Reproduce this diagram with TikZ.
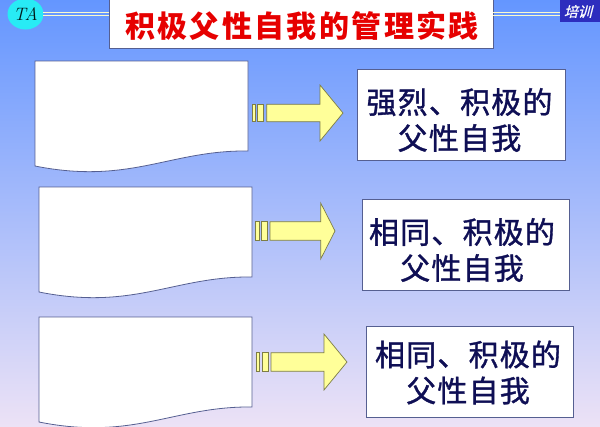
\documentclass[tikz,border=0pt]{standalone}
\usepackage{fontspec}
\usetikzlibrary{shapes.geometric}
\newfontfamily\cjk{Noto Sans CJK SC}
\newfontfamily\cjkw[LetterSpace=4,FakeBold=1.2]{Noto Sans CJK SC}
\newfontfamily\cjkt[LetterSpace=8]{Noto Sans CJK SC}
\newfontfamily\cjki[FakeSlant=0.25,FakeBold=0.8]{Noto Sans CJK SC}
\definecolor{bgtop}{RGB}{100,150,255}
\definecolor{bgmid}{RGB}{145,188,250}
\definecolor{bgbot}{RGB}{236,226,246}
\definecolor{bordc}{RGB}{85,95,145}
\definecolor{arrfill}{RGB}{255,255,153}
\definecolor{arrline}{RGB}{125,125,70}
\definecolor{navy}{RGB}{15,15,85}
\definecolor{tared}{RGB}{230,0,0}
\definecolor{pxblue}{RGB}{45,45,190}
\definecolor{tacyan}{RGB}{40,235,245}
\definecolor{dlcol}{RGB}{250,250,205}
\tikzset{
  docshape/.style={draw=bordc, fill=white, line width=0.8pt},
  rbox/.style={draw=bordc, fill=white, line width=0.8pt, inner sep=0pt},
  btext/.style={align=center, text=navy, font=\cjkw\fontsize{30}{36}\selectfont, inner sep=0pt},
  arr/.style={draw=arrline, fill=arrfill, line width=0.7pt, line join=miter},
  dl/.style={draw=dlcol, line width=1.3pt}
}
\begin{document}
\begin{tikzpicture}[x=1pt,y=-1pt]
\useasboundingbox (0,0) rectangle (600,426);
\shade[top color=bgtop, middle color=bgmid, bottom color=bgbot] (0,0) rectangle (600,426);

% header
\node[ellipse, fill=tacyan, minimum width=36pt, minimum height=31pt, inner sep=0pt] (ta) at (25.5,14) {};
\node[text=black!80!teal, font=\fontsize{18}{18}\selectfont\itshape] (tatext) at (ta.center) {TA};
\node[draw=bordc, fill=white, line width=0.8pt, minimum width=384pt, minimum height=49pt, inner sep=0pt, anchor=north west] (title) at (109,-1) {};
\node[text=tared, font=\cjkt\bfseries\fontsize{30}{30}\selectfont, inner sep=0pt] (titletext) at (302,25.5) {积极父性自我的管理实践};
\node[fill=pxblue, minimum width=41pt, minimum height=23pt, inner sep=0pt, anchor=north east] (px) at (601,-1) {};
\node[text=white, font=\cjki\fontsize{14}{14}\selectfont, inner sep=0pt] (pxtext) at (578,11.5) {培训};
\coordinate (la1) at (43,12.3); \coordinate (lb1) at (109,12.3);
\coordinate (la2) at (43,15.6); \coordinate (lb2) at (109,15.6);
\coordinate (ra1) at (493,12.3); \coordinate (rb1) at (560,12.3);
\coordinate (ra2) at (493,15.6); \coordinate (rb2) at (560,15.6);
\draw[dl] (la1) -- (lb1); \draw[dl] (la2) -- (lb2);
\draw[dl] (ra1) -- (rb1); \draw[dl] (ra2) -- (rb2);

% documents
\foreach \dx/\dy in {0/0, 4/126, 4/256}{
  \begin{scope}[shift={(\dx,\dy)}]
    \draw[docshape] (35,61) -- (248,61) -- (248,151)
      .. controls (170,150) and (130,185) .. (35,166) -- cycle;
  \end{scope}
}

% arrows
\begin{scope}[shift={(266.7,113)}]
  \draw[arr] (0,-8.7) -- (53.3,-8.7) -- (53.3,-28) -- (76.3,0) -- (53.3,28) -- (53.3,8.7) -- (0,8.7) -- cycle;
  \draw[arr] (-14.4,-8.7) rectangle (-11,8.7);
  \draw[arr] (-9.4,-8.7) rectangle (-3.4,8.7);
\end{scope}
\begin{scope}[shift={(270,231)}]
  \draw[arr] (0,-9.3) -- (50.7,-9.3) -- (50.7,-28) -- (65,0) -- (50.7,28) -- (50.7,9.3) -- (0,9.3) -- cycle;
  \draw[arr] (-14.3,-9.3) rectangle (-11,9.3);
  \draw[arr] (-9,-9.3) rectangle (-3,9.3);
\end{scope}
\begin{scope}[shift={(271,362)}]
  \draw[arr] (0,-9.3) -- (53,-9.3) -- (53,-28) -- (76,0) -- (53,28) -- (53,9.3) -- (0,9.3) -- cycle;
  \draw[arr] (-15,-9.3) rectangle (-11.3,9.3);
  \draw[arr] (-9,-9.3) rectangle (-3,9.3);
\end{scope}

% result boxes
\node[rbox, minimum width=208pt, minimum height=91pt] (box1) at (461,114.5) {};
\node[btext] (t1) at (459.5,120) {强烈、积极的\\父性自我};
\node[rbox, minimum width=207pt, minimum height=91pt] (box2) at (465.5,244.5) {};
\node[btext] (t2) at (462,250) {相同、积极的\\父性自我};
\node[rbox, minimum width=207pt, minimum height=91pt] (box3) at (469.5,371.5) {};
\node[btext] (t3) at (468,372.5) {相同、积极的\\父性自我};
\end{tikzpicture}
\end{document}
